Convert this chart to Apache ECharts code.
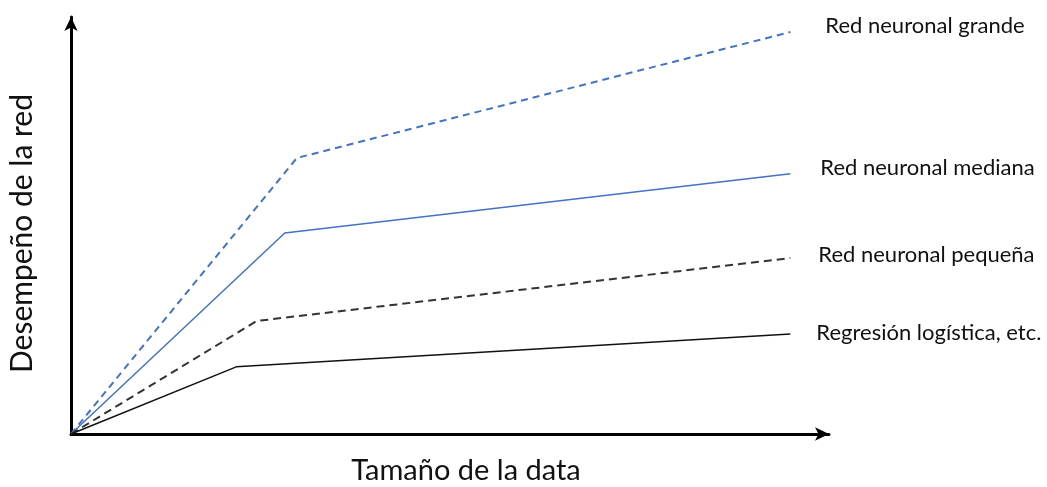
<!DOCTYPE html>
<html>
<head>
<meta charset="utf-8">
<script src="https://cdn.jsdelivr.net/npm/echarts@6/dist/echarts.min.js"></script>
<style>html,body{margin:0;padding:0;background:#fff}#c{width:1047px;height:487px}</style>
</head>
<body>
<div id="c"></div>
<script>
var seriesNames = ['Red neuronal grande', 'Red neuronal mediana', 'Red neuronal pequeña', 'Regresión logística, etc.'];
var grande = [[0, 0], [29.8, 66.2], [94.9, 96.4]];
var mediana = [[0, 0], [28.2, 48.2], [94.9, 62.4]];
var pequena = [[0, 0], [24.5, 27.1], [94.9, 42.2]];
var regresion = [[0, 0], [21.8, 16.1], [94.9, 24.0]];
var xTitle = 'Tamaño de la data';
var yTitle = 'Desempeño de la red';

var FONT = 'Lato, "Open Sans", sans-serif';
function lineSeries(name, data, color, type, width, dist, dy) {
  return {
    name: name, type: 'line', data: data, symbol: 'none', silent: true,
    lineStyle: {color: color, width: width, type: type},
    endLabel: {show: true, formatter: '{a}', distance: dist, offset: [0, dy],
      color: '#111', fontSize: 22, fontFamily: FONT}
  };
}
var chart = echarts.init(document.getElementById('c'));
chart.setOption({
  animation: false,
  backgroundColor: '#fff',
  grid: {left: 71, right: 218, top: 17, bottom: 53, outerBoundsMode: 'none', containLabel: false},
  xAxis: {
    type: 'value', min: 0, max: 100,
    axisLine: {show: true, lineStyle: {color: '#000', width: 3}, symbol: ['none', 'arrow'], symbolSize: [10, 14]},
    axisTick: {show: false}, axisLabel: {show: false}, splitLine: {show: false},
    name: xTitle, nameLocation: 'middle', nameGap: 22,
    nameTextStyle: {fontSize: 29, color: '#111', fontFamily: FONT, padding: [0, 0, 0, 32]}
  },
  yAxis: {
    type: 'value', min: 0, max: 100,
    axisLine: {show: true, lineStyle: {color: '#000', width: 3}, symbol: ['none', 'arrow'], symbolSize: [10, 14]},
    axisTick: {show: false}, axisLabel: {show: false}, splitLine: {show: false},
    name: yTitle, nameLocation: 'middle', nameGap: 34, nameRotate: 90,
    nameTextStyle: {fontSize: 30, color: '#111', fontFamily: FONT, padding: [0, 16, 0, 0]}
  },
  series: [
    lineSeries(seriesNames[0], grande, '#4472C4', [7, 5], 2, 35, -6),
    lineSeries(seriesNames[1], mediana, '#4472C4', 'solid', 1.5, 30, -6),
    lineSeries(seriesNames[2], pequena, '#333', [8, 5], 2, 28, -3),
    lineSeries(seriesNames[3], regresion, '#111', 'solid', 1.5, 26, -1)
  ]
});
</script>
</body>
</html>
